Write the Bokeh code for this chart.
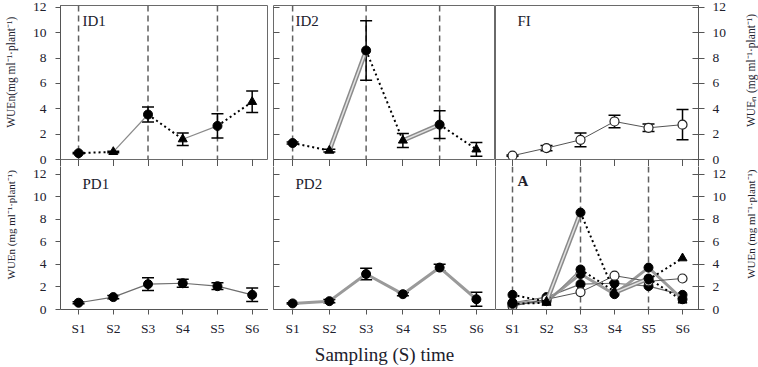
import math

from bokeh.embed import file_html
from bokeh.layouts import column, row
from bokeh.models import (ColumnDataSource, FixedTicker, Label, LinearAxis,
                          Range1d, Span, TeeHead, Whisker)
from bokeh.plotting import figure
from bokeh.resources import INLINE

# ---------------------------------------------------------------- data
samples = ["S1", "S2", "S3", "S4", "S5", "S6"]
y_ticks = [0, 2, 4, 6, 8, 10, 12]

id1_mean = [0.5, 0.6, 3.55, 1.6, 2.65, 4.55]
id1_err = [0.05, 0.06, 0.6, 0.5, 0.95, 0.85]

id2_mean = [1.3, 0.7, 8.6, 1.5, 2.75, 0.8]
id2_err = [0.08, 0.1, 2.35, 0.55, 1.1, 0.55]

fi_mean = [0.3, 0.9, 1.55, 3.0, 2.5, 2.75]
fi_err = [0.05, 0.2, 0.55, 0.5, 0.3, 1.2]

pd1_mean = [0.6, 1.1, 2.25, 2.33, 2.07, 1.3]
pd1_err = [0.08, 0.15, 0.57, 0.35, 0.3, 0.6]

pd2_mean = [0.54, 0.74, 3.15, 1.36, 3.72, 0.91]
pd2_err = [0.05, 0.15, 0.52, 0.15, 0.3, 0.63]

# intermittent-drying series: marker per sampling and style of each link
id_markers = ["circle", "triangle", "circle", "triangle", "circle", "triangle"]
id_links = ["dry", "wet", "dry", "wet", "dry"]
rewatering = ["S1", "S3", "S5"]

label_top_left = "WUEn(mg ml\u207b\u00b9\u00b7plant\u207b\u00b9)"
label_top_right = "WUE\u2099 (mg ml\u207b\u00b9\u00b7plant\u207b\u00b9)"
label_bottom = "WUEn (mg ml\u207b\u00b9\u00b7plant\u207b\u00b9)"
label_x = "Sampling (S) time"

# ---------------------------------------------------------------- style
FONT = "Liberation Serif"
TXT = "#20202c"
AXC = "#555555"
EDGE = "#6a6a6a"
TICK_FS = "13.5px"
STRIP = 7  # tick strip below the upper panels
xs = list(range(1, len(samples) + 1))
xpos = {s: i + 1 for i, s in enumerate(samples)}

LEFT_W, RIGHT_W = 22, 23
COLS = [
    dict(width=246, xr=(0.48, 6.47), bl=38, br=0),
    dict(width=227, xr=(0.48, 6.52), bl=5, br=0),
    dict(width=240, xr=(0.50, 6.47), bl=0, br=37),
]
ROWS = [
    dict(height=159 + STRIP, yr=(0, 12.15), bt=5, bb=STRIP),
    dict(height=367 - 159 - STRIP, yr=(0, 12.69), bt=0, bb=54),
]


def make_fig(r, c):
    cs, rs = COLS[c], ROWS[r]
    p = figure(width=cs["width"], height=rs["height"],
               x_range=Range1d(*cs["xr"]), y_range=Range1d(*rs["yr"]),
               x_axis_location=None, y_axis_location=None,
               toolbar_location=None, output_backend="svg",
               min_border_left=cs["bl"], min_border_right=cs["br"],
               min_border_top=rs["bt"], min_border_bottom=rs["bb"])
    p.xgrid.visible = False
    p.ygrid.visible = False
    p.outline_line_color = EDGE if r == 0 else None
    p.outline_line_width = 1
    p.background_fill_color = "white"
    p.border_fill_color = "white"
    return p


def style_axis(ax):
    ax.axis_line_color = AXC
    ax.major_tick_line_color = AXC
    ax.minor_tick_line_color = None
    ax.major_label_text_font = FONT
    ax.major_label_text_font_size = TICK_FS
    ax.major_label_text_color = TXT
    ax.axis_label_text_font = FONT
    ax.axis_label_text_font_style = "normal"
    ax.axis_label_text_color = TXT


def bare_axis(ticks, tin, tout, line=None):
    ax = LinearAxis(ticker=FixedTicker(ticks=ticks))
    style_axis(ax)
    ax.major_tick_in = tin
    ax.major_tick_out = tout
    ax.major_label_overrides = {t: "" for t in ticks}
    ax.major_label_text_font_size = "0px"
    ax.major_label_standoff = 0
    ax.axis_line_color = line
    return ax


def add_left_axis(p):
    ax = LinearAxis(ticker=FixedTicker(ticks=y_ticks))
    style_axis(ax)
    ax.major_tick_in = 0
    ax.major_tick_out = 5
    ax.major_label_standoff = 9
    p.add_layout(ax, "left")


def add_right_axis(p):
    ax = LinearAxis(ticker=FixedTicker(ticks=y_ticks))
    style_axis(ax)
    ax.major_tick_in = 6
    ax.major_tick_out = 6
    ax.major_label_standoff = 8
    p.add_layout(ax, "right")


def add_bottom_axis(p, label=None):
    ax = LinearAxis(ticker=FixedTicker(ticks=xs), axis_label=label)
    style_axis(ax)
    ax.major_label_overrides = {x: s for x, s in zip(xs, samples)}
    ax.major_tick_in = 0
    ax.major_tick_out = 5
    ax.major_label_standoff = 6
    ax.axis_label_standoff = 5
    ax.axis_label_text_font_size = "19px"
    p.add_layout(ax, "below")


def frame_px(p):
    fw = p.width - p.min_border_left - p.min_border_right
    fh = p.height - p.min_border_top - p.min_border_bottom
    return fw, fh


def add_title(p, text, ypx, bold=False):
    x0, x1 = p.x_range.start, p.x_range.end
    y0, y1 = p.y_range.start, p.y_range.end
    fw, fh = frame_px(p)
    p.add_layout(Label(x=x0 + 22 * (x1 - x0) / fw, y=y1 - ypx * (y1 - y0) / fh,
                       text=text, text_font=FONT, text_font_size="15px",
                       text_font_style="bold" if bold else "normal",
                       text_color=TXT, text_baseline="top"))


def title_strip(width, height, text, cx, cy_from_top, size):
    # narrow margin figure holding a rotated y-axis title
    p = figure(width=width, height=height, x_range=Range1d(0, width),
               y_range=Range1d(0, height), x_axis_location=None, y_axis_location=None,
               toolbar_location=None, output_backend="svg", min_border=0)
    p.xgrid.visible = False
    p.ygrid.visible = False
    p.outline_line_color = None
    p.add_layout(Label(x=cx, y=height - cy_from_top, text=text, angle=math.pi / 2,
                       text_align="center", text_baseline="middle", text_font=FONT,
                       text_font_size=size, text_color=TXT))
    return p


def add_rewatering(p):
    for s in rewatering:
        p.add_layout(Span(location=xpos[s], dimension="height", line_color="#606060",
                          line_width=1.5, line_dash="6 4", level="underlay"))


def add_errors(p, mean, err):
    src = ColumnDataSource(dict(x=xs, lo=[m - e for m, e in zip(mean, err)],
                                hi=[m + e for m, e in zip(mean, err)]))
    p.add_layout(Whisker(base="x", lower="lo", upper="hi", source=src,
                         line_color="black", line_width=1.5,
                         lower_head=TeeHead(size=12, line_width=1.5, line_color="black"),
                         upper_head=TeeHead(size=12, line_width=1.5, line_color="black")))


def draw_id(p, mean, double_wet):
    seg = {"dry": dict(x0=[], y0=[], x1=[], y1=[]), "wet": dict(x0=[], y0=[], x1=[], y1=[])}
    for i, kind in enumerate(id_links):
        d = seg[kind]
        d["x0"].append(xs[i]); d["y0"].append(mean[i])
        d["x1"].append(xs[i + 1]); d["y1"].append(mean[i + 1])
    wet = ColumnDataSource(seg["wet"])
    if double_wet:
        p.segment("x0", "y0", "x1", "y1", source=wet, line_color="#8a8a8a", line_width=4.5)
        p.segment("x0", "y0", "x1", "y1", source=wet, line_color="#e2e2e2", line_width=1.5)
    else:
        p.segment("x0", "y0", "x1", "y1", source=wet, line_color="#8a8a8a", line_width=1.2)
    p.segment("x0", "y0", "x1", "y1", source=ColumnDataSource(seg["dry"]),
              line_color="black", line_width=2, line_dash="2 3")
    p.scatter("x", "y", marker="m", source=ColumnDataSource(dict(x=xs, y=mean, m=id_markers)),
              size=9, fill_color="black", line_color="black")


def draw_fi(p):
    p.line(xs, fi_mean, line_color="#555555", line_width=1)
    p.scatter(xs, fi_mean, marker="circle", size=9, fill_color="white", line_color="#222222",
              line_width=1.2)


def draw_pd1(p):
    p.line(xs, pd1_mean, line_color="#6e6e6e", line_width=1.2)
    p.scatter(xs, pd1_mean, marker="circle", size=9, fill_color="black", line_color="black")


def draw_pd2(p):
    p.line(xs, pd2_mean, line_color="#9a9a9a", line_width=3)
    p.scatter(xs, pd2_mean, marker="circle", size=9, fill_color="black", line_color="black")


figs = [[make_fig(r, c) for c in range(3)] for r in range(2)]

# top row: ID1, ID2, FI
p = figs[0][0]
add_left_axis(p)
add_rewatering(p)
add_errors(p, id1_mean, id1_err)
draw_id(p, id1_mean, double_wet=False)
add_title(p, "ID1", 7)

p = figs[0][1]
p.add_layout(bare_axis(y_ticks, 6, 0), "left")
add_rewatering(p)
add_errors(p, id2_mean, id2_err)
draw_id(p, id2_mean, double_wet=True)
add_title(p, "ID2", 7)

p = figs[0][2]
add_right_axis(p)
add_errors(p, fi_mean, fi_err)
draw_fi(p)
add_title(p, "FI", 7)

# sampling ticks hanging below the upper panels; the end ticks carry the panel edges down
for c in range(3):
    p = figs[0][c]
    p.add_layout(bare_axis([p.x_range.start] + xs + [p.x_range.end], 0, STRIP), "below")

# bottom row: PD1, PD2, all treatments together (edges drawn by axis lines)
p = figs[1][0]
add_left_axis(p)
p.add_layout(bare_axis([], 0, 0, EDGE), "right")
add_bottom_axis(p)
add_errors(p, pd1_mean, pd1_err)
draw_pd1(p)
add_title(p, "PD1", 10)

p = figs[1][1]
p.add_layout(bare_axis(y_ticks, 6, 0, EDGE), "left")
p.add_layout(bare_axis([], 0, 0, EDGE), "right")
add_bottom_axis(p, label_x)
add_errors(p, pd2_mean, pd2_err)
draw_pd2(p)
add_title(p, "PD2", 10)

p = figs[1][2]
p.add_layout(bare_axis([], 0, 0, EDGE), "left")
add_right_axis(p)
add_bottom_axis(p)
add_rewatering(p)
draw_pd1(p)
draw_pd2(p)
draw_fi(p)
draw_id(p, id1_mean, double_wet=False)
draw_id(p, id2_mean, double_wet=True)
add_title(p, "A", 7, bold=True)

h_top, h_bot = ROWS[0]["height"], ROWS[1]["height"]
top = row(title_strip(LEFT_W, h_top, label_top_left, 10, 72, "11.5px"), *figs[0],
          title_strip(RIGHT_W, h_top, label_top_right, 15, 70, "11.5px"), spacing=0)
bottom = row(title_strip(LEFT_W, h_bot, label_bottom, 10, 248 - h_top, "11px"), *figs[1],
             title_strip(RIGHT_W, h_bot, label_bottom, 15, 247 - h_top, "11px"), spacing=0)
layout = column(top, bottom, spacing=0)

with open("out.html", "w") as f:
    f.write(file_html(layout, INLINE))
